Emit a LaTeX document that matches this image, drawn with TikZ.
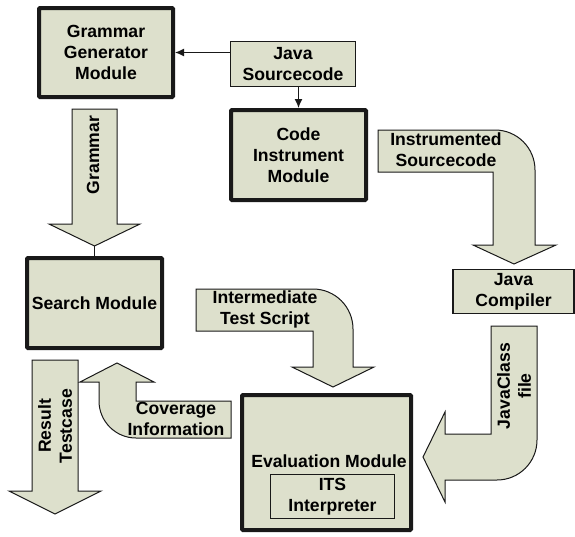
\documentclass[tikz,border=0pt]{standalone}
\usepackage{fontspec}
\setmainfont{Liberation Sans}
\usetikzlibrary{arrows.meta}
\definecolor{boxfill}{RGB}{221,224,204}
\definecolor{edge}{RGB}{25,25,25}
\tikzset{
  txt/.style={font=\fontsize{17.6}{21}\selectfont\bfseries, align=center, inner sep=0pt},
  thickbox/.style={draw=edge, fill=boxfill, line width=4pt, rounded corners=1pt, txt},
  thinbox/.style={draw=edge, fill=boxfill, line width=1.3pt, txt},
  blockarrow/.style={draw=edge, fill=boxfill, line width=1pt, line join=miter},
  conn/.style={draw=edge, line width=1.2pt, -{Latex[length=9pt,width=8pt]}},
}
\begin{document}
\begin{tikzpicture}[x=1pt,y=-1pt]
\useasboundingbox (0,0) rectangle (575,536);

% boxes
\node[thickbox, minimum width=134pt, minimum height=89pt] (gen) at (106,52.5) {Grammar\\Generator\\Module};
\node[thinbox, minimum width=125pt, minimum height=45pt] (java) at (293,64) {Java\\Sourcecode};
\node[thickbox, minimum width=135pt, minimum height=90pt] (code) at (298.5,155) {Code\\Instrument\\Module};
\node[thickbox, minimum width=135pt, minimum height=90pt] (search) at (94.5,303) {Search Module};
\node[thinbox, minimum width=121pt, minimum height=44pt] (javac) at (513.5,291.5) {Java\\Compiler};
\node[thickbox, minimum width=169pt, minimum height=135pt] (eval) at (326.5,462.5) {};
\node[txt] (evallbl) at (329,461) {Evaluation Module};
\node[thinbox, minimum width=124pt, minimum height=44pt] (its) at (332.5,496.5) {ITS\\Interpreter};

% thin connectors
\draw[conn] (java.west |- gen.east) -- (gen.east);
\draw[conn] (java.south -| code.north) -- (code.north);

% Grammar block arrow
\draw[blockarrow] (72,109) -- (117,109) -- (117,224) -- (140,224) -- (94.5,246) -- (49,224) -- (72,224) -- cycle;
\coordinate (gtip) at (94.5,246);
\draw[edge, line width=1pt] (gtip) -- (search.north);
\node[txt, rotate=90] (gramlbl) at (93,155) {Grammar};

% Result Testcase block arrow
\draw[blockarrow] (32,360) -- (78,360) -- (78,491) -- (101,491) -- (55,514) -- (9,491) -- (32,491) -- cycle;
\node[txt, rotate=90] (reslbl) at (55,426) {Result\\Testcase};

% Instrumented Sourcecode bent arrow
\draw[blockarrow] (378,130) -- (495,130) .. controls (517.1,130) and (535,147.9) .. (535,170)
  -- (535,245) -- (556,245) -- (514,264) -- (473,245) -- (493,245) -- (493,172) -- (378,172) -- cycle;
\node[txt] (instlbl) at (446,150) {Instrumented\\Sourcecode};

% Intermediate Test Script bent arrow
\draw[blockarrow] (196,289) -- (313,289) .. controls (335.1,289) and (353,306.9) .. (353,329)
  -- (353,367) -- (374,367) -- (333,387) -- (292,367) -- (313,367) -- (313,331) -- (196,331) -- cycle;
\node[txt] (itslbl) at (265,309) {Intermediate\\Test Script};

% Coverage Information bent arrow
\draw[blockarrow] (117,363) -- (154,382) -- (136,382) -- (136,401) -- (231,401) -- (231,438)
  -- (136,438) .. controls (115.6,438) and (99,421.4) .. (99,401) -- (99,382) -- (80,382) -- cycle;
\node[txt] (covlbl) at (176,419) {Coverage\\Information};

% JavaClass file bent arrow
\draw[blockarrow] (491,326) -- (537,326) -- (537,440) .. controls (537,462.1) and (519.1,480) .. (497,480)
  -- (445,480) -- (445,502) -- (423,457) -- (445,412) -- (445,434) -- (491,434) -- cycle;
\node[txt, rotate=90] (jclbl) at (514,386) {JavaClass\\file};
\end{tikzpicture}
\end{document}
